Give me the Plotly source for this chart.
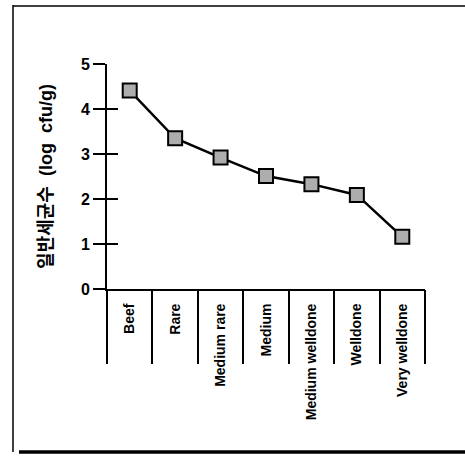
import plotly.graph_objects as go

categories = ["Beef", "Rare", "Medium rare", "Medium", "Medium welldone", "Welldone", "Very welldone"]
values = [4.41, 3.35, 2.92, 2.51, 2.33, 2.09, 1.16]
y_ticks = [0, 1, 2, 3, 4, 5]
y_title = "일반세균수  (log  cfu/g)"

FONT = "Liberation Sans, Arial, Noto Sans CJK KR, sans-serif"
W, H = 465, 459
L, R, T, B = 107, 40, 64, 170
pw, ph = W - L - R, H - T - B

def px(x):
    return (x - L) / pw

def py(y):
    return (H - B - y) / ph

xpos = list(range(len(categories)))
dividers = [i - 0.5 for i in range(len(categories) + 1)]

fig = go.Figure()
fig.add_trace(go.Scatter(
    x=xpos, y=values, mode="lines+markers",
    line=dict(color="black", width=2.5),
    marker=dict(symbol="square", size=14, color="#adadad",
                line=dict(color="black", width=2)),
    cliponaxis=False, showlegend=False,
))

fig.update_layout(
    width=W, height=H,
    margin=dict(l=L, r=R, t=T, b=B),
    paper_bgcolor="white", plot_bgcolor="white",
    font=dict(family=FONT, color="black", size=14),
    xaxis=dict(
        range=[-0.5, len(categories) - 0.5],
        tickmode="array", tickvals=xpos, ticktext=categories,
        tickangle=-90, ticks="", showgrid=False, zeroline=False,
        showline=True, linecolor="black", linewidth=2,
        tickfont=dict(family=FONT, size=14, color="black", weight="bold"),
        ticklabelstandoff=7,
    ),
    xaxis2=dict(
        overlaying="x", anchor="y", side="bottom",
        range=[-0.5, len(categories) - 0.5],
        tickmode="array", tickvals=dividers,
        ticks="outside", ticklen=74, tickwidth=1.5, tickcolor="black",
        showticklabels=False, showgrid=False, zeroline=False, showline=False,
    ),
    yaxis=dict(
        range=[0, 5], tickmode="array", tickvals=y_ticks,
        ticks="outside", ticklen=12, tickwidth=1.5, tickcolor="black",
        showgrid=False, zeroline=False,
        showline=True, linecolor="black", linewidth=2,
        tickfont=dict(family=FONT, size=16, color="black", weight="bold"),
        title=dict(text=y_title, standoff=24,
                   font=dict(family=FONT, size=18, color="black", weight="bold")),
    ),
    yaxis2=dict(
        overlaying="y", anchor="x", side="left",
        range=[0, 5], tickmode="array", tickvals=y_ticks,
        ticks="inside", ticklen=11, tickwidth=1.5, tickcolor="black",
        showticklabels=False, showgrid=False, zeroline=False, showline=False,
    ),
    shapes=[
        dict(type="line", xref="paper", yref="paper",
             x0=px(13), x1=px(13), y0=py(5), y1=py(452),
             line=dict(color="black", width=1.5)),
        dict(type="line", xref="paper", yref="paper",
             x0=px(13), x1=px(470), y0=py(6), y1=py(6),
             line=dict(color="black", width=1.5)),
        dict(type="line", xref="paper", yref="paper",
             x0=px(19), x1=px(470), y0=py(452), y1=py(452),
             line=dict(color="black", width=3.5)),
    ],
)
# invisible trace to activate overlay axes
fig.add_trace(go.Scatter(x=[0], y=[0], xaxis="x2", yaxis="y2", mode="markers",
                         marker=dict(opacity=0), showlegend=False, hoverinfo="skip"))

fig.write_html("out.html", config={"displayModeBar": False},
               post_script="document.body.style.margin='0';")
